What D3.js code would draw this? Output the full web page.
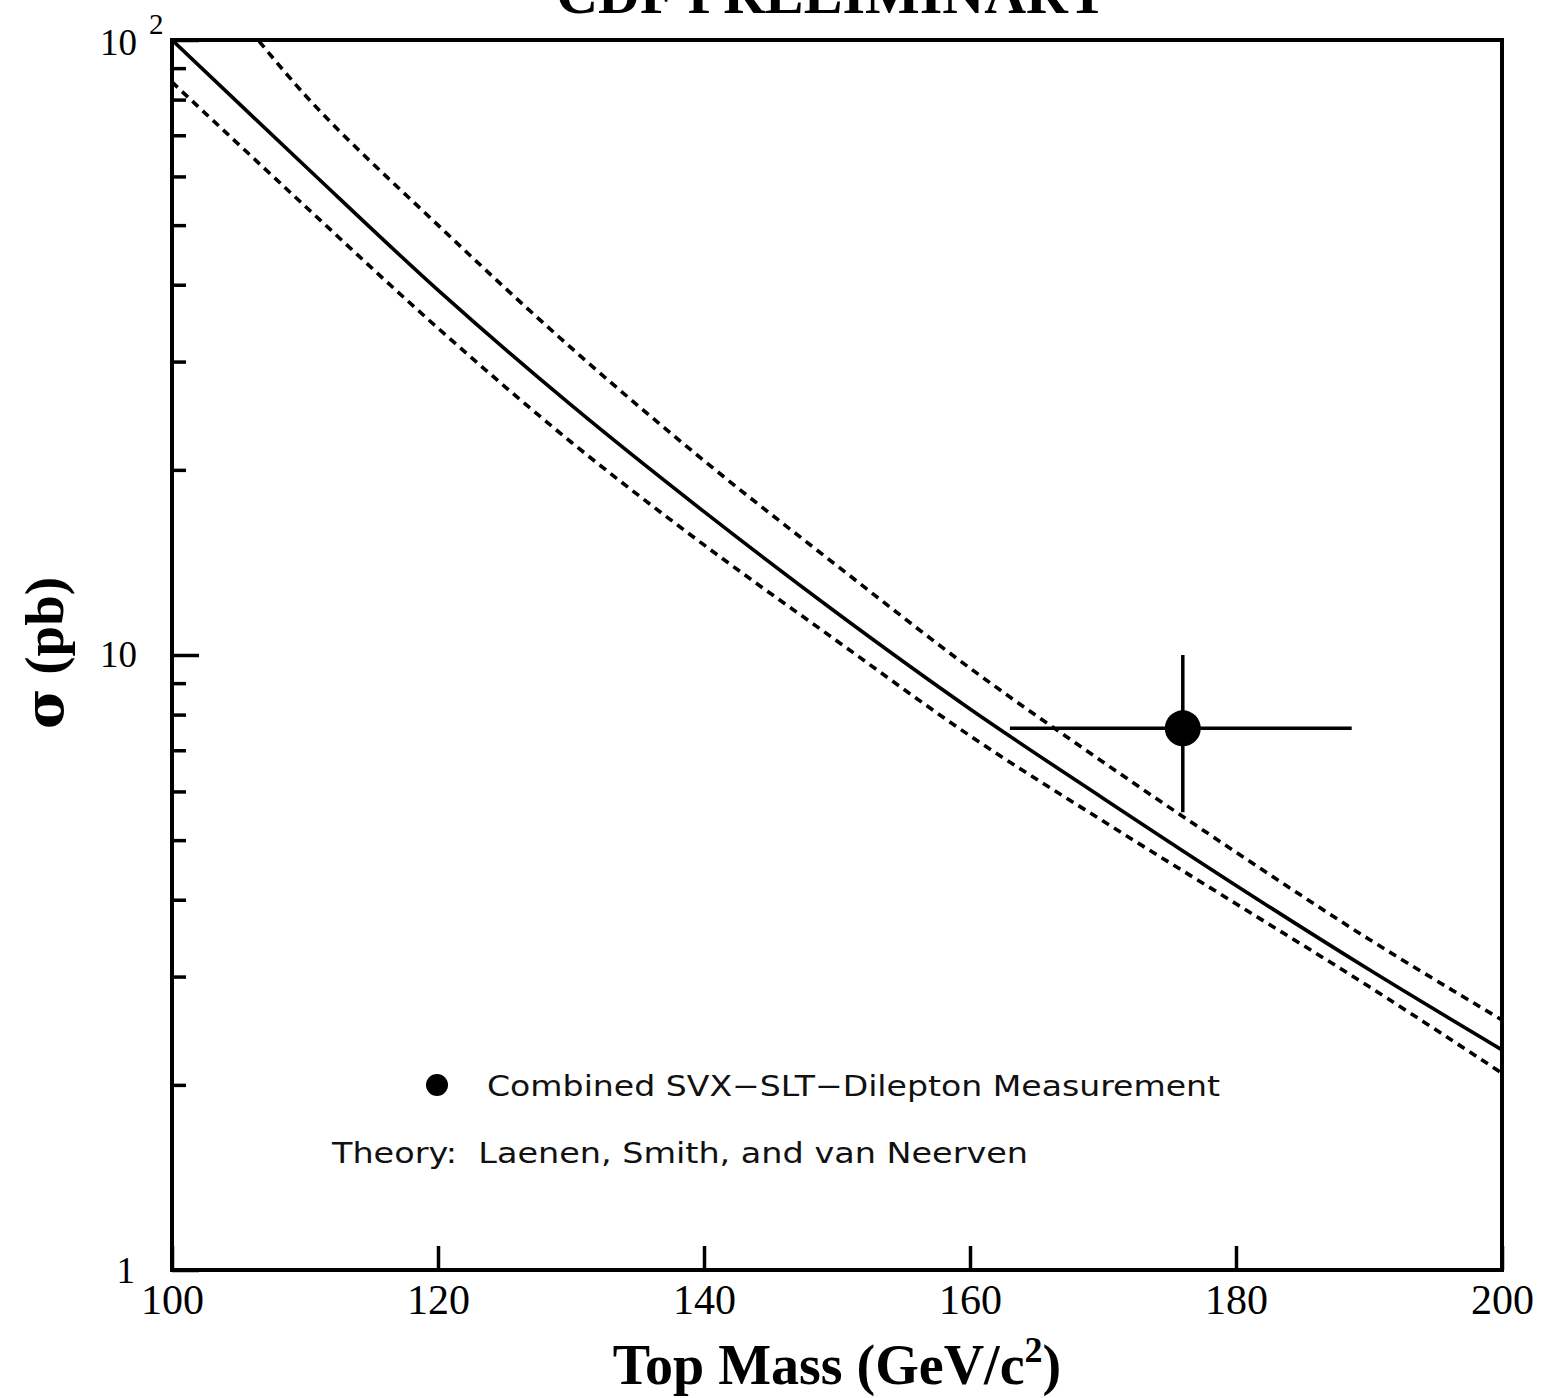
<!DOCTYPE html>
<html>
<head>
<meta charset="utf-8">
<script src="https://cdn.jsdelivr.net/npm/d3@7"></script>
<style>
  html, body { margin: 0; padding: 0; background: #fff; }
  svg { display: block; }
</style>
</head>
<body>
<svg id="chart"></svg>
<script>
// top mass (GeV/c^2) where the theory curves were read
const masses = [100, 110, 120, 130, 140, 150, 160, 170, 180, 190, 200];
// Laenen, Smith, van Neerven: central value and upper / lower band (pb)
const sigmaCentral = [100, 62.4, 39.2, 25.5, 17.1, 11.7, 8.17, 5.85, 4.22, 3.08, 2.28];
const sigmaUpper   = [150, 81.4, 50.0, 31.6, 20.7, 13.97, 9.52, 6.70, 4.78, 3.45, 2.55];
const sigmaLower   = [85.4, 53.7, 34.0, 22.2, 15.1, 10.54, 7.39, 5.37, 3.94, 2.89, 2.09];

// CDF combined measurement
const measMass = [176];
const measSigma = [7.6];
const measMassLo = [163];
const measMassHi = [188.7];
const measSigmaLo = [5.55];
const measSigmaHi = [10.0];

const xTicks = [100, 120, 140, 160, 180, 200];
const yMinorTicks = [2, 3, 4, 5, 6, 7, 8, 9, 20, 30, 40, 50, 60, 70, 80, 90];
const yMajorTicks = [1, 10, 100];

const width = 1541, height = 1398;
const margin = { top: 40, right: 39, bottom: 128, left: 172 };
const innerW = width - margin.left - margin.right;
const innerH = height - margin.top - margin.bottom;

const svg = d3.select("#chart").attr("width", width).attr("height", height);

const x = d3.scaleLinear().domain([100, 200]).range([margin.left, margin.left + innerW]);
const y = d3.scaleLog().domain([1, 100]).range([margin.top + innerH, margin.top]);

const serif = "'Liberation Serif', 'Times New Roman', serif";
const sans = "'DejaVu Sans', 'Noto Sans', sans-serif";

svg.append("defs").append("clipPath").attr("id", "plot")
  .append("rect")
  .attr("x", margin.left).attr("y", margin.top)
  .attr("width", innerW).attr("height", innerH);

// title, its upper part falls off the top edge like in the scan
svg.append("text")
  .attr("x", 832).attr("y", 13)
  .attr("text-anchor", "middle")
  .style("font-family", serif).style("font-weight", "bold").style("font-size", "58px")
  .text("CDF PRELIMINARY");

// theory curves
const line = (vals) => d3.line()
  .x((d, i) => x(masses[i]))
  .y(d => y(d))
  .curve(d3.curveCatmullRom.alpha(0.5))(vals);

const curves = svg.append("g").attr("clip-path", "url(#plot)");
curves.append("path").attr("d", line(sigmaCentral))
  .attr("fill", "none").attr("stroke", "#000").attr("stroke-width", 3.6);
[sigmaUpper, sigmaLower].forEach(s => {
  curves.append("path").attr("d", line(s))
    .attr("fill", "none").attr("stroke", "#000").attr("stroke-width", 3.6)
    .attr("stroke-dasharray", "8,6");
});

// x axis ticks (inside)
const xAxis = svg.append("g")
  .attr("transform", `translate(0,${margin.top + innerH})`)
  .call(d3.axisBottom(x).tickValues(xTicks).tickSize(-24).tickPadding(14).tickFormat(d3.format("d")));
xAxis.select(".domain").remove();
xAxis.selectAll("line").attr("stroke-width", 3.5);
xAxis.selectAll("text")
  .style("font-family", serif).style("font-size", "42px").attr("fill", "#000");

// y axis ticks (inside)
const yMinor = svg.append("g")
  .attr("transform", `translate(${margin.left},0)`)
  .call(d3.axisLeft(y).tickValues(yMinorTicks).tickSize(-14).tickFormat(""));
yMinor.select(".domain").remove();
yMinor.selectAll("line").attr("stroke-width", 3.5);

const yMajor = svg.append("g")
  .attr("transform", `translate(${margin.left},0)`)
  .call(d3.axisLeft(y).tickValues(yMajorTicks).tickSize(-27).tickFormat(""));
yMajor.select(".domain").remove();
yMajor.selectAll("line").attr("stroke-width", 3.5);

// y tick labels
const yLab = svg.append("g")
  .style("font-family", serif).style("font-size", "37px").attr("fill", "#000");
yLab.append("text").attr("x", margin.left - 35).attr("y", y(10) + 12)
  .attr("text-anchor", "end").text("10");
yLab.append("text").attr("x", margin.left - 37).attr("y", y(1) + 13)
  .attr("text-anchor", "end").text("1");
const hundredLabel = yLab.append("text").attr("x", margin.left - 72).attr("y", y(100) + 15);
hundredLabel.append("tspan").text("10");
hundredLabel.append("tspan").attr("dx", 12).attr("dy", -21).style("font-size", "29px").text("2");

// frame
svg.append("rect")
  .attr("x", margin.left).attr("y", margin.top)
  .attr("width", innerW).attr("height", innerH)
  .attr("fill", "none").attr("stroke", "#000").attr("stroke-width", 4);

// measurement with error bars
const meas = svg.append("g");
measMass.forEach((m, i) => {
  meas.append("line")
    .attr("x1", x(measMassLo[i])).attr("x2", x(measMassHi[i]))
    .attr("y1", y(measSigma[i])).attr("y2", y(measSigma[i]))
    .attr("stroke", "#000").attr("stroke-width", 3.5);
  meas.append("line")
    .attr("x1", x(m)).attr("x2", x(m))
    .attr("y1", y(measSigmaLo[i])).attr("y2", y(measSigmaHi[i]))
    .attr("stroke", "#000").attr("stroke-width", 3.5);
  meas.append("circle")
    .attr("cx", x(m)).attr("cy", y(measSigma[i])).attr("r", 18).attr("fill", "#000");
});

// legend
svg.append("circle").attr("cx", 437).attr("cy", 1085).attr("r", 11).attr("fill", "#000");
svg.append("text").attr("x", 487).attr("y", 1096)
  .style("font-family", sans).style("font-size", "29px").attr("fill", "#111")
  .attr("textLength", 733).attr("lengthAdjust", "spacingAndGlyphs")
  .text("Combined SVX\u2212SLT\u2212Dilepton Measurement");
svg.append("text").attr("x", 332).attr("y", 1163)
  .style("font-family", sans).style("font-size", "29px").attr("fill", "#111")
  .attr("textLength", 696).attr("lengthAdjust", "spacingAndGlyphs")
  .text("Theory:\u00a0\u00a0Laenen, Smith, and van Neerven");

// axis titles
const xt = svg.append("text")
  .attr("x", 837).attr("y", 1384)
  .attr("text-anchor", "middle")
  .style("font-family", serif).style("font-weight", "bold").style("font-size", "56px");
xt.append("tspan").text("Top Mass (GeV/c");
xt.append("tspan").attr("dy", -22).style("font-size", "36px").text("2");
xt.append("tspan").attr("dy", 22).text(")");

const yt = svg.append("text")
  .attr("transform", "translate(63,653) rotate(-90)")
  .attr("text-anchor", "middle")
  .style("font-family", serif).style("font-weight", "bold").style("font-size", "55px");
yt.append("tspan").style("font-family", "'DejaVu Serif', serif").text("\u03c3");
yt.append("tspan").text(" (pb)");
</script>
</body>
</html>
